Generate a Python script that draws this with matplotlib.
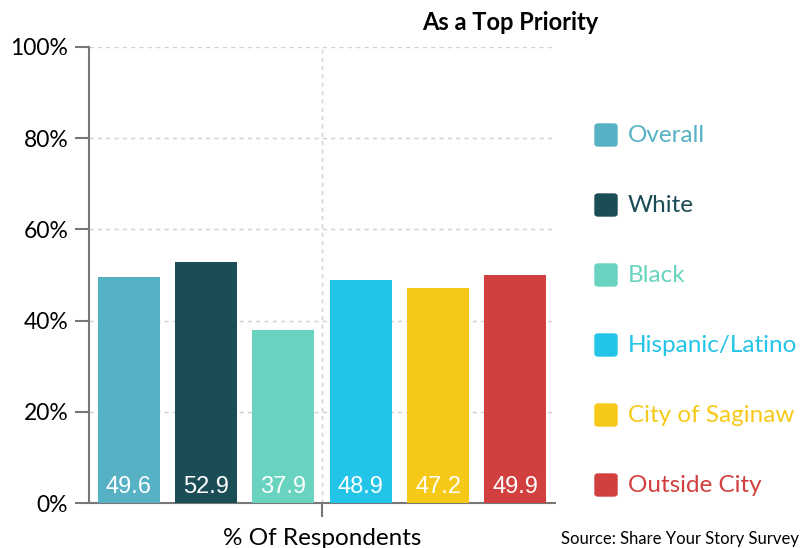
import numpy as np
import matplotlib.pyplot as plt
from matplotlib.patches import FancyBboxPatch

# dados
grupos = ["Overall", "White", "Black", "Hispanic/Latino", "City of Saginaw", "Outside City"]
valores = [49.6, 52.9, 37.9, 48.9, 47.2, 49.9]
cores = ["#56B1C4", "#1B4D57", "#68D4BF", "#22C4E8", "#F6C919", "#D13F3F"]
categoria = "% Of Respondents"
yticks = [0, 20, 40, 60, 80, 100]

plt.rcParams['font.family'] = ['Lato', 'DejaVu Sans']

fig = plt.figure(figsize=(8.04, 5.48), dpi=100)
ax = fig.add_axes([89 / 804, 1 - 503 / 548, 466 / 804, 456 / 548])

passo = 0.166
largura = 0.133
n = len(valores)
for i, (v, c) in enumerate(zip(valores, cores)):
    x = 0.5 + (i - (n - 1) / 2) * passo
    ax.bar(x, v, width=largura, color=c, zorder=3)
    ax.text(x, 3.5, f"{v}", ha='center', va='center', color='white',
            fontsize=17, family='Liberation Sans', zorder=4)

ax.set_xlim(0, 1)
ax.set_ylim(0, 100)
ax.set_yticks(yticks)
ax.set_yticklabels([f"{t}%" for t in yticks], fontsize=16.5)
ax.set_xticks([0.5])
ax.set_xticklabels([categoria], fontsize=17.5)

ax.grid(axis='y', linestyle=(0, (3, 3)), color='#d0d0d0', linewidth=1, zorder=0)
ax.axvline(0.5, linestyle=(0, (3, 3)), color='#d0d0d0', linewidth=1, zorder=0)

for lado in ['top', 'right']:
    ax.spines[lado].set_visible(False)
for lado in ['left', 'bottom']:
    ax.spines[lado].set_color('#777777')
    ax.spines[lado].set_linewidth(1.5)
ax.tick_params(axis='both', length=10, width=1.5, color='#777777', pad=5)
ax.tick_params(axis='x', pad=8)

# legenda manual
ys = [135, 205, 275, 345, 415, 485]
for g, c, y in zip(grupos, cores, ys):
    yf = 1 - y / 548
    fig.patches.append(FancyBboxPatch((595 / 804, yf - 11 / 548), 22 / 804, 22 / 548,
                                      boxstyle="round,pad=0,rounding_size=0.004",
                                      transform=fig.transFigure, color=c))
    fig.text(628 / 804, yf, g, color=c, fontsize=17.5, va='center', ha='left')

fig.text(510 / 804, 1 - 22 / 548, "As a Top Priority", fontsize=17,
         fontweight='bold', ha='center', va='center')
fig.text(561 / 804, 1 - 539 / 548, "Source: Share Your Story Survey", fontsize=12,
         ha='left', va='center')

fig.savefig("out.png", dpi=100)
